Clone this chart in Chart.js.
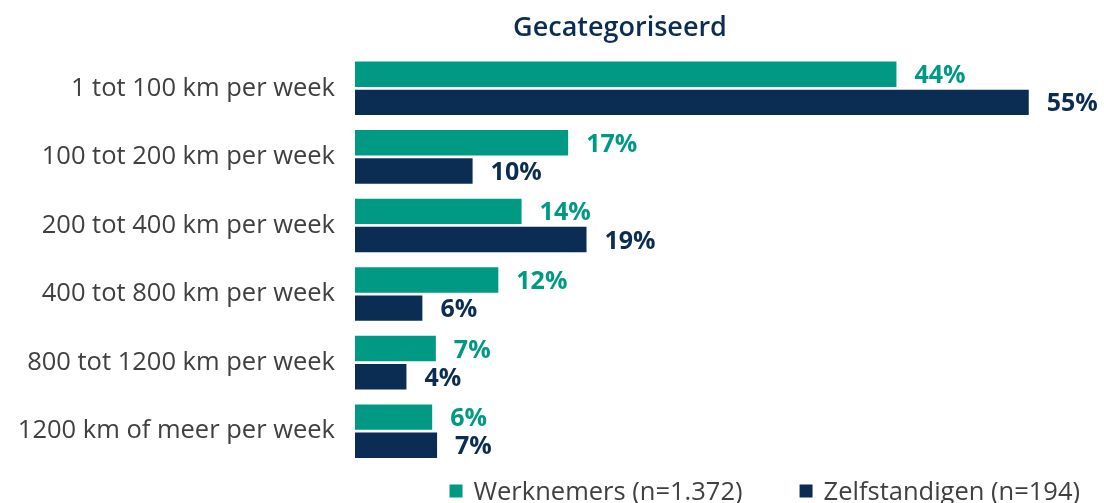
<!DOCTYPE html>
<html><head><meta charset="utf-8">
<script src="https://cdn.jsdelivr.net/npm/chart.js@4"></script>
<style>html,body{margin:0;padding:0;background:#fff}#wrap{width:1104px;height:503px}</style>
</head><body><div id="wrap"><canvas id="c" width="1104" height="503"></canvas></div>
<script>
const chartTitle = 'Gecategoriseerd';
const categories = [
  '1 tot 100 km per week',
  '100 tot 200 km per week',
  '200 tot 400 km per week',
  '400 tot 800 km per week',
  '800 tot 1200 km per week',
  '1200 km of meer per week'
];
const seriesNames = ['Werknemers (n=1.372)', 'Zelfstandigen (n=194)'];
const werknemers = [44.2, 17.4, 13.6, 11.7, 6.6, 6.3];
const zelfstandigen = [55.0, 9.6, 18.9, 5.5, 4.2, 6.7];
const seriesColors = ['#009a84', '#0b2d54'];

const FONT = "'Open Sans', 'Noto Sans', sans-serif";

const overlay = {
  id: 'overlay',
  afterDraw(chart) {
    const ctx = chart.ctx;
    ctx.save();
    // title
    ctx.fillStyle = '#0b2d54';
    ctx.font = '600 27px ' + FONT;
    ctx.textAlign = 'center';
    ctx.textBaseline = 'alphabetic';
    ctx.fillText(chartTitle, 620, 36);
    // value labels
    ctx.font = 'bold 25px ' + FONT;
    ctx.textAlign = 'left';
    chart.data.datasets.forEach((ds, di) => {
      const meta = chart.getDatasetMeta(di);
      ctx.fillStyle = ds.backgroundColor;
      meta.data.forEach((el, i) => {
        ctx.fillText(Math.round(ds.data[i]) + '%', el.x + 18, el.y + 9);
      });
    });
    // legend
    ctx.font = 'normal 25.5px ' + FONT;
    const widths = chart.data.datasets.map(ds => ctx.measureText(ds.label).width);
    const box = 13, gapText = 11, gapItem = 57;
    let total = 0;
    widths.forEach((w, i) => { total += box + gapText + w + (i ? gapItem : 0); });
    let x = 1080 - total;
    chart.data.datasets.forEach((ds, i) => {
      ctx.fillStyle = ds.backgroundColor;
      ctx.fillRect(x, 484.5, box, box);
      ctx.fillStyle = '#404040';
      ctx.fillText(ds.label, x + box + gapText, 499.5);
      x += box + gapText + widths[i] + gapItem;
    });
    ctx.restore();
  }
};

new Chart(document.getElementById('c'), {
  type: 'bar',
  data: {
    labels: categories,
    datasets: [
      { label: seriesNames[0], data: werknemers, backgroundColor: seriesColors[0], categoryPercentage: 0.822, barPercentage: 0.9 },
      { label: seriesNames[1], data: zelfstandigen, backgroundColor: seriesColors[1], categoryPercentage: 0.822, barPercentage: 0.9 }
    ]
  },
  options: {
    indexAxis: 'y',
    responsive: false,
    animation: false,
    devicePixelRatio: 1,
    layout: { padding: { top: 54, bottom: 37.5, left: 0, right: 14 } },
    scales: {
      x: { display: false, min: 0, max: 60 },
      y: {
        afterFit(s) { s.width = 355; },
        grid: { display: false, drawTicks: false },
        border: { display: false },
        ticks: { padding: 20, color: '#404040', font: { family: FONT, size: 25.5 } }
      }
    },
    plugins: { legend: { display: false }, title: { display: false }, tooltip: { enabled: false } }
  },
  plugins: [overlay]
});
</script>
</body></html>
